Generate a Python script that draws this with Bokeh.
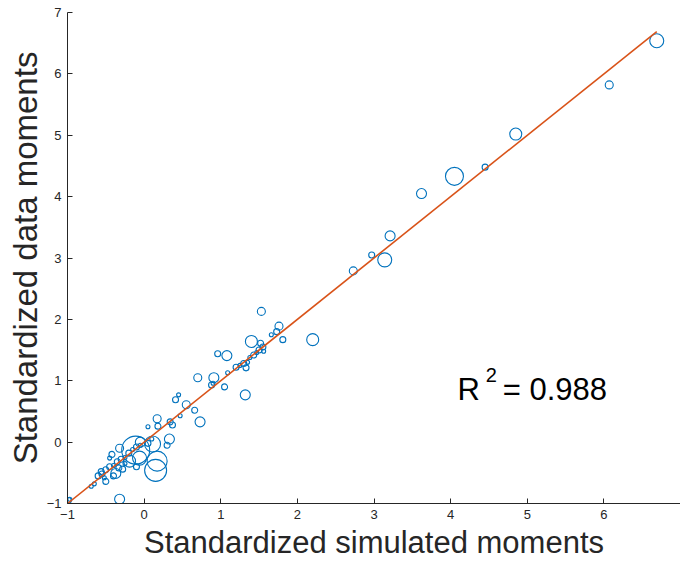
from bokeh.plotting import figure
from bokeh.models import Range1d, FixedTicker, Label
from bokeh.embed import file_html
from bokeh.resources import INLINE

# Standardized simulated moments (x), data moments (y), marker weight (circle radius)
sim = [6.69, 6.07, 4.85, 4.45, 4.05, 3.62, 3.21, 2.97, 3.14, 2.73,
       1.53, 1.76, 1.66, 1.73, 1.81, 2.20, 1.40, 1.52, 1.55, 1.50,
       1.47, 1.43, 1.56, 1.38, 0.96, 1.08, 1.09, 1.20, 1.25, 1.30,
       1.33, 1.35, 0.70, 0.91, 0.88, 0.90, 1.05, 1.32, 0.45, 0.41,
       0.55, 0.66, 0.47, 0.17, 0.73, 0.34,
       -0.99, -0.97, -0.32, -0.69, -0.65, -0.56, -0.50, -0.37, -0.45, -0.60,
       -0.55, -0.50, -0.45, -0.40, -0.35, -0.30, -0.25, -0.20, -0.15, -0.10,
       -0.05, -0.52, -0.33, -0.25, -0.40, -0.32,
       -0.11, 0.15, 0.17, 0.11, 0.33, -0.06, -0.19, -0.05, 0.05, 0.18,
       0.37, 0.30, 0.05, 0.10, -0.28, -0.42, -0.10]
dat = [6.54, 5.82, 5.02, 4.48, 4.33, 4.05, 3.36, 3.05, 2.97, 2.79,
       2.13, 1.89, 1.75, 1.80, 1.67, 1.67, 1.64, 1.61, 1.55, 1.50,
       1.46, 1.42, 1.48, 1.38, 1.44, 1.41, 1.13, 1.22, 1.25, 1.28,
       1.21, 1.30, 1.05, 1.05, 0.93, 0.96, 0.90, 0.77, 0.77, 0.69,
       0.61, 0.52, 0.43, 0.38, 0.33, 0.33,
       -0.95, -0.93, -0.93, -0.72, -0.68, -0.48, -0.64, -0.51, -0.26, -0.55,
       -0.52, -0.45, -0.40, -0.38, -0.32, -0.28, -0.25, -0.18, -0.12, -0.08,
       -0.05, -0.58, -0.42, -0.35, -0.55, -0.10,
       -0.13, -0.46, -0.31, -0.03, 0.05, -0.26, -0.31, 0.00, 0.25, 0.26,
       0.28, -0.05, -0.02, 0.05, -0.44, -0.20, -0.40]
weight = [7, 4, 6, 3, 9, 5, 5, 3, 7, 4,
          4, 4, 2, 3, 3, 6, 6, 3, 3, 3,
          2, 3, 2, 2, 3, 5, 2, 3, 2, 3,
          3, 2, 4, 5, 3, 2, 3, 5, 2, 3,
          4, 3, 2, 4, 5, 3,
          3, 2, 5, 2, 2, 3, 3, 5, 2, 3,
          3, 3, 3, 2, 3, 3, 2, 3, 2, 3,
          2, 2, 3, 2, 3, 4,
          14, 11, 10, 8, 5, 7, 6, 5, 2, 3,
          3, 3, 3, 2, 3, 3, 3]
fit_x = [-1.0, 6.69]
fit_y = [-1.0, 6.69]
ticks = [-1, 0, 1, 2, 3, 4, 5, 6, 7]
r2_text = "0.988"

p = figure(width=680, height=566, output_backend="svg", toolbar_location=None,
           x_range=Range1d(-1, 7), y_range=Range1d(-1, 7),
           min_border_left=67, min_border_right=0, min_border_top=12, min_border_bottom=63)
p.outline_line_color = None
p.grid.visible = False
p.background_fill_color = "white"

p.scatter(sim, dat, size=[2 * w for w in weight], marker="circle",
          fill_color=None, line_color="#0072BD", line_width=1.1)
p.line(fit_x, fit_y, line_color="#D95319", line_width=1.6)

for ax in (p.xaxis[0], p.yaxis[0]):
    ax.ticker = FixedTicker(ticks=ticks)
    ax.minor_tick_line_color = None
    ax.major_tick_in = 5
    ax.major_tick_out = 0
    ax.axis_line_color = "#262626"
    ax.major_tick_line_color = "#262626"
    ax.major_label_text_color = "#262626"
    ax.major_label_text_font = "Liberation Sans"
    ax.major_label_text_font_size = "13px"
    ax.axis_label_text_font = "Liberation Sans"
    ax.axis_label_text_font_style = "normal"
    ax.axis_label_text_color = "#262626"

p.xaxis.major_label_overrides = {7: ""}
p.xaxis.axis_label_text_font_size = "31px"
p.yaxis.axis_label_text_font_size = "33px"
p.xaxis.axis_label = "Standardized simulated moments"
p.yaxis.axis_label = "Standardized data moments"
p.xaxis.major_label_standoff = 6
p.yaxis.major_label_standoff = 6
p.xaxis.axis_label_standoff = 3
p.yaxis.axis_label_standoff = 0

p.add_layout(Label(x=4.09, y=0.85, text="R", text_font="Liberation Sans",
                   text_font_size="31px", text_color="black", text_baseline="alphabetic"))
p.add_layout(Label(x=4.46, y=1.09, text="2", text_font="Liberation Sans",
                   text_font_size="20px", text_color="black", text_baseline="alphabetic"))
p.add_layout(Label(x=4.68, y=0.85, text="= " + r2_text, text_font="Liberation Sans",
                   text_font_size="31px", text_color="black", text_baseline="alphabetic"))

open("out.html", "w").write(file_html(p, INLINE))
